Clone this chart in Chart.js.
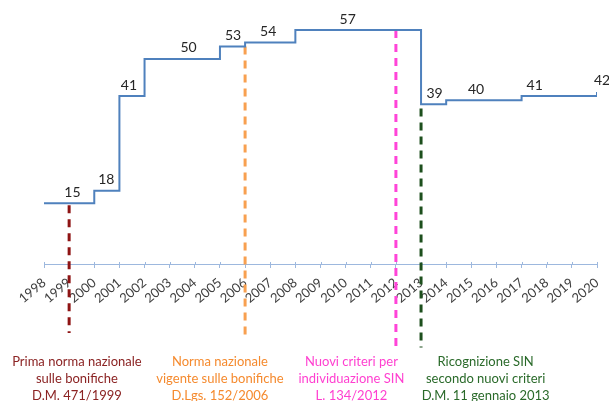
<!DOCTYPE html>
<html>
<head>
<meta charset="utf-8">
<title>SIN - Siti di interesse nazionale</title>
<script src="https://cdn.jsdelivr.net/npm/chart.js"></script>
<style>
  html, body { margin: 0; padding: 0; background: #fff; }
  #wrap { width: 609px; height: 401px; position: relative; }
</style>
</head>
<body>
<div id="wrap"><canvas id="sinChart"></canvas></div>
<script>
// numero di SIN per anno
const years = [1998, 1999, 2000, 2001, 2002, 2003, 2004, 2005, 2006, 2007, 2008, 2009,
               2010, 2011, 2012, 2013, 2014, 2015, 2016, 2017, 2018, 2019, 2020];
const sinCount = [15, 15, 18, 41, 50, 50, 50, 53, 54, 54, 57, 57,
                  57, 57, 57, 39, 40, 40, 40, 41, 41, 41, 42];

// etichette dei valori: anno dove sta l'etichetta e valore mostrato
const labelYears = [1999.13, 2000.48, 2001.38, 2003.75, 2005.52, 2006.92, 2010.08, 2013.54, 2015.19, 2017.52, 2020.2];
const labelValues = [15, 18, 41, 50, 53, 54, 57, 39, 40, 41, 42];

// riferimenti normativi
const lawYears = [1999, 2006, 2012, 2013];
const lawTextYears = [1999.31, 2005.0, 2010.23, 2015.57];
const lawTexts = [
  ['Prima norma nazionale', 'sulle bonifiche', 'D.M. 471/1999'],
  ['Norma nazionale', 'vigente sulle bonifiche', 'D.Lgs. 152/2006'],
  ['Nuovi criteri per', 'individuazione SIN', 'L. 134/2012'],
  ['Ricognizione SIN', 'secondo nuovi criteri', 'D.M. 11 gennaio 2013']
];

// stile delle linee tratteggiate (estremi in unita' dell'asse y)
const lawTop = [14.5, 53, 57, 38];
const lawBottom = [-16.5, -17.5, -20, -20];
const lawLineColors = ['#8E1414', '#F8A050', '#FF44D8', '#1D4F1D'];
const lawTextColors = ['#8B2323', '#F58A2E', '#FF3FD0', '#2A6A2A'];

const FONT = 'Lato, "Open Sans", sans-serif';

const annotations = {
  id: 'annotations',
  beforeDatasetsDraw(chart) {
    const { ctx, scales: { x, y } } = chart;
    const y0 = y.getPixelForValue(0);
    ctx.save();
    // tacche sopra l'asse
    ctx.strokeStyle = '#9DB8DE';
    ctx.lineWidth = 1;
    x.ticks.forEach(t => {
      const px = Math.round(x.getPixelForValue(t.value)) + 0.5;
      ctx.beginPath();
      ctx.moveTo(px, y0 - 3);
      ctx.lineTo(px, y0);
      ctx.stroke();
    });
    // linee tratteggiate
    ctx.lineWidth = 3;
    ctx.setLineDash([8, 6]);
    lawYears.forEach((yr, i) => {
      const px = x.getPixelForValue(yr);
      ctx.strokeStyle = lawLineColors[i];
      ctx.beginPath();
      ctx.moveTo(px, y.getPixelForValue(lawTop[i]));
      ctx.lineTo(px, y.getPixelForValue(lawBottom[i]));
      ctx.stroke();
    });
    ctx.restore();
  },
  afterDatasetsDraw(chart) {
    const { ctx, scales: { x, y } } = chart;
    ctx.save();
    ctx.textAlign = 'center';
    ctx.textBaseline = 'middle';
    ctx.font = '14px ' + FONT;
    ctx.fillStyle = '#262626';
    labelYears.forEach((yr, i) => {
      ctx.fillText(String(labelValues[i]), x.getPixelForValue(yr), y.getPixelForValue(labelValues[i]) - 11);
    });
    const y0 = y.getPixelForValue(0);
    ctx.font = '13px ' + FONT;
    lawTexts.forEach((lines, i) => {
      ctx.fillStyle = lawTextColors[i];
      lines.forEach((txt, j) => {
        ctx.fillText(txt, x.getPixelForValue(lawTextYears[i]), y0 + 97 + j * 17);
      });
    });
    ctx.restore();
  }
};

new Chart(document.getElementById('sinChart'), {
  type: 'line',
  data: {
    datasets: [{
      data: years.map((yr, i) => ({ x: yr, y: sinCount[i] })),
      borderColor: '#4F81BD',
      borderWidth: 2,
      pointRadius: 0,
      stepped: 'before',
      fill: false
    }]
  },
  options: {
    responsive: true,
    maintainAspectRatio: false,
    animation: false,
    layout: { padding: { left: 44, right: 12, top: 0, bottom: 0 } },
    plugins: { legend: { display: false }, tooltip: { enabled: false } },
    scales: {
      x: {
        type: 'linear',
        position: { y: 0 },
        min: 1998,
        max: 2020,
        afterFit: s => { s.paddingLeft = 0; s.paddingRight = 0; },
        grid: { display: true, drawOnChartArea: false, color: '#9DB8DE', tickLength: 3 },
        border: { color: '#9DB8DE', width: 1 },
        ticks: {
          stepSize: 1,
          autoSkip: false,
          minRotation: 40,
          maxRotation: 40,
          padding: 7,
          color: '#404040',
          font: { family: FONT, size: 13 },
          callback: v => String(v)
        }
      },
      y: {
        display: false,
        min: -33,
        max: 64.3
      }
    }
  },
  plugins: [annotations]
});
</script>
</body>
</html>
